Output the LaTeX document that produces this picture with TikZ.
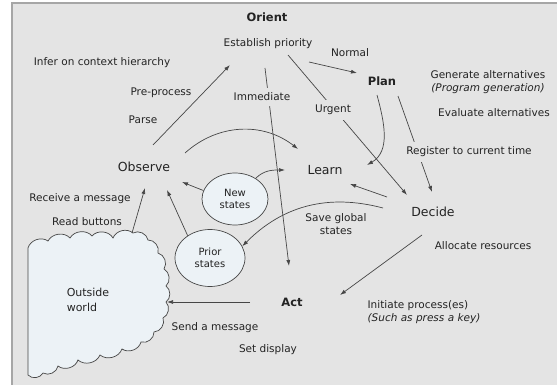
\documentclass[tikz,border=0pt]{standalone}
\usepackage{fontspec}
\setmainfont{DejaVu Sans}
\usetikzlibrary{shapes.geometric, arrows.meta}
\definecolor{panel}{RGB}{228,228,228}
\definecolor{bubble}{RGB}{236,242,246}
\definecolor{ink}{RGB}{35,35,35}
\definecolor{linegray}{RGB}{70,70,70}

\begin{document}
\begin{tikzpicture}[x=1pt,y=1pt,>={Latex[length=6pt,width=4pt]},
  txt/.style={font=\fontsize{10.5}{12.5}\selectfont,text=ink,inner sep=1pt},
  stage/.style={font=\fontsize{12.5}{14}\selectfont,text=ink},
  stagebf/.style={font=\fontsize{11.5}{14}\selectfont\bfseries,text=ink},
  memory/.style={ellipse,draw=linegray,fill=bubble,line width=0.7pt,minimum width=66pt,minimum height=52pt,inner sep=0pt,align=center,font=\fontsize{10}{12}\selectfont,text=ink},
  conn/.style={draw=linegray,line width=0.7pt},
  gap/.style={fill=panel,inner sep=5pt}]
\path[use as bounding box,fill=white] (0,0) rectangle (557,-385);
\fill[panel] (12,-3) rectangle (557,-385);
\draw[gray!70,line width=1.2pt] (12,-385) -- (12,-3) -- (557,-3);

% outside world
\draw[conn,fill=bubble] (28,-375) -- (28,-248)
  to[bend left=55] (48,-241) to[bend left=55] (70,-238) to[bend left=55] (92,-236)
  to[bend left=55] (113,-238) to[bend left=55] (133,-233)
  to[bend left=55] (148,-240) to[bend left=55] (158,-253) to[bend left=55] (164,-269)
  to[bend left=55] (166,-286) to[bend left=55] (166,-302) to[bend left=55] (163,-318)
  to[bend left=55] (154,-332) to[bend left=55] (141,-342) to[bend left=55] (122,-349)
  to[bend left=55] (100,-355) to[bend left=55] (78,-360) to[bend left=55] (58,-366)
  to[bend left=55] (43,-373) to[bend left=55] (28,-375) -- cycle;
\coordinate (worldtop) at (132,-233);
\coordinate (worldright) at (167,-302);
\node[txt,align=left,font=\fontsize{11}{15}\selectfont] (world) at (88,-300) {Outside\\world};

\node[stagebf] (orient) at (267,-17) {Orient};
\node[txt] (establish) at (268,-44) {Establish priority};
\node[txt] (infer) at (102,-63) {Infer on context hierarchy};
\node[txt] (normal) at (350,-53) {Normal};
\node[stagebf] (plan) at (382,-81) {Plan};
\node[txt,align=center,font=\fontsize{10.5}{13}\selectfont] (generate) at (488,-82) {Generate alternatives\\\textit{(Program generation)}};
\node[txt] (evaluate) at (494,-113) {Evaluate alternatives};
\node[txt] (preprocess) at (161,-93) {Pre-process};
\node[txt] (parse) at (143,-120) {Parse};
\node[stage] (observe) at (144,-167) {Observe};
\node[stage] (learn) at (325,-170) {Learn};
\node[stage] (decide) at (433,-212) {Decide};
\node[memory] (newst) at (235,-199) {New\\states};
\node[memory,minimum width=70pt,minimum height=57pt] (priorst) at (210,-258) {Prior\\states};
\node[txt] (receive) at (80,-199) {Receive a message};
\node[txt] (readbtn) at (87,-222) {Read buttons};
\node[txt,align=center] (saveglobal) at (336,-224) {Save global\\states};
\node[txt] (allocate) at (483,-246) {Allocate resources};
\node[stagebf] (act) at (292,-302) {Act};
\node[txt,align=left] (initiate) at (424,-312) {Initiate process(es)\\\textit{(Such as press a key)}};
\node[txt] (sendmsg) at (215,-328) {Send a message};
\node[txt] (setdisplay) at (268,-350) {Set display};

\draw[conn,->] ([shift={(9,22)}]observe.center) -- ([shift={(-38,-21)}]establish.center);
\draw[conn,->] ([shift={(41,-18)}]establish.center) -- ([shift={(-25,8)}]plan.center);
\draw[conn,->] ([shift={(-3,-24)}]establish.center) -- ([shift={(-3,36)}]act.center);
\draw[conn,->] ([shift={(20,-11)}]establish.center) -- ([shift={(-26,17)}]decide.center);
\draw[conn,->] ([shift={(16,-15)}]plan.center) -- ([shift={(-1,20)}]decide.center);
\draw[conn,->] ([shift={(-5,-14)}]plan.center) to[out=-75,in=30] ([shift={(42,5)}]learn.center);
\draw[conn,->] ([shift={(-46,15)}]decide.center) -- ([shift={(25,-14)}]learn.center);
\draw[conn,->] ([shift={(41,14)}]observe.center) to[bend left=40] ([shift={(-27,21)}]learn.center);
\draw[conn,->] (newst.45) to[out=45,in=180] ([shift={(-40,0)}]learn.center);
\draw[conn,->] (newst.165) -- ([shift={(38,-15)}]observe.center);
\draw[conn,->] (priorst.135) -- ([shift={(23,-23)}]observe.center);
\draw[conn,->] (worldtop) -- ([shift={(1,-21)}]observe.center);
\draw[conn,->] ([shift={(-50,4)}]decide.center) to[bend right=30] (priorst.20);
\draw[conn,->] ([shift={(-11,-23)}]decide.center) -- ([shift={(48,7)}]act.center);
\draw[conn,->] ([shift={(-42,0)}]act.center) -- (worldright);

\node[txt,gap] (immediate) at (262,-97) {Immediate};
\node[txt,gap] (urgent) at (333,-110) {Urgent};
\node[txt,gap] (register) at (469,-152) {Register to current time};
\end{tikzpicture}
\end{document}
